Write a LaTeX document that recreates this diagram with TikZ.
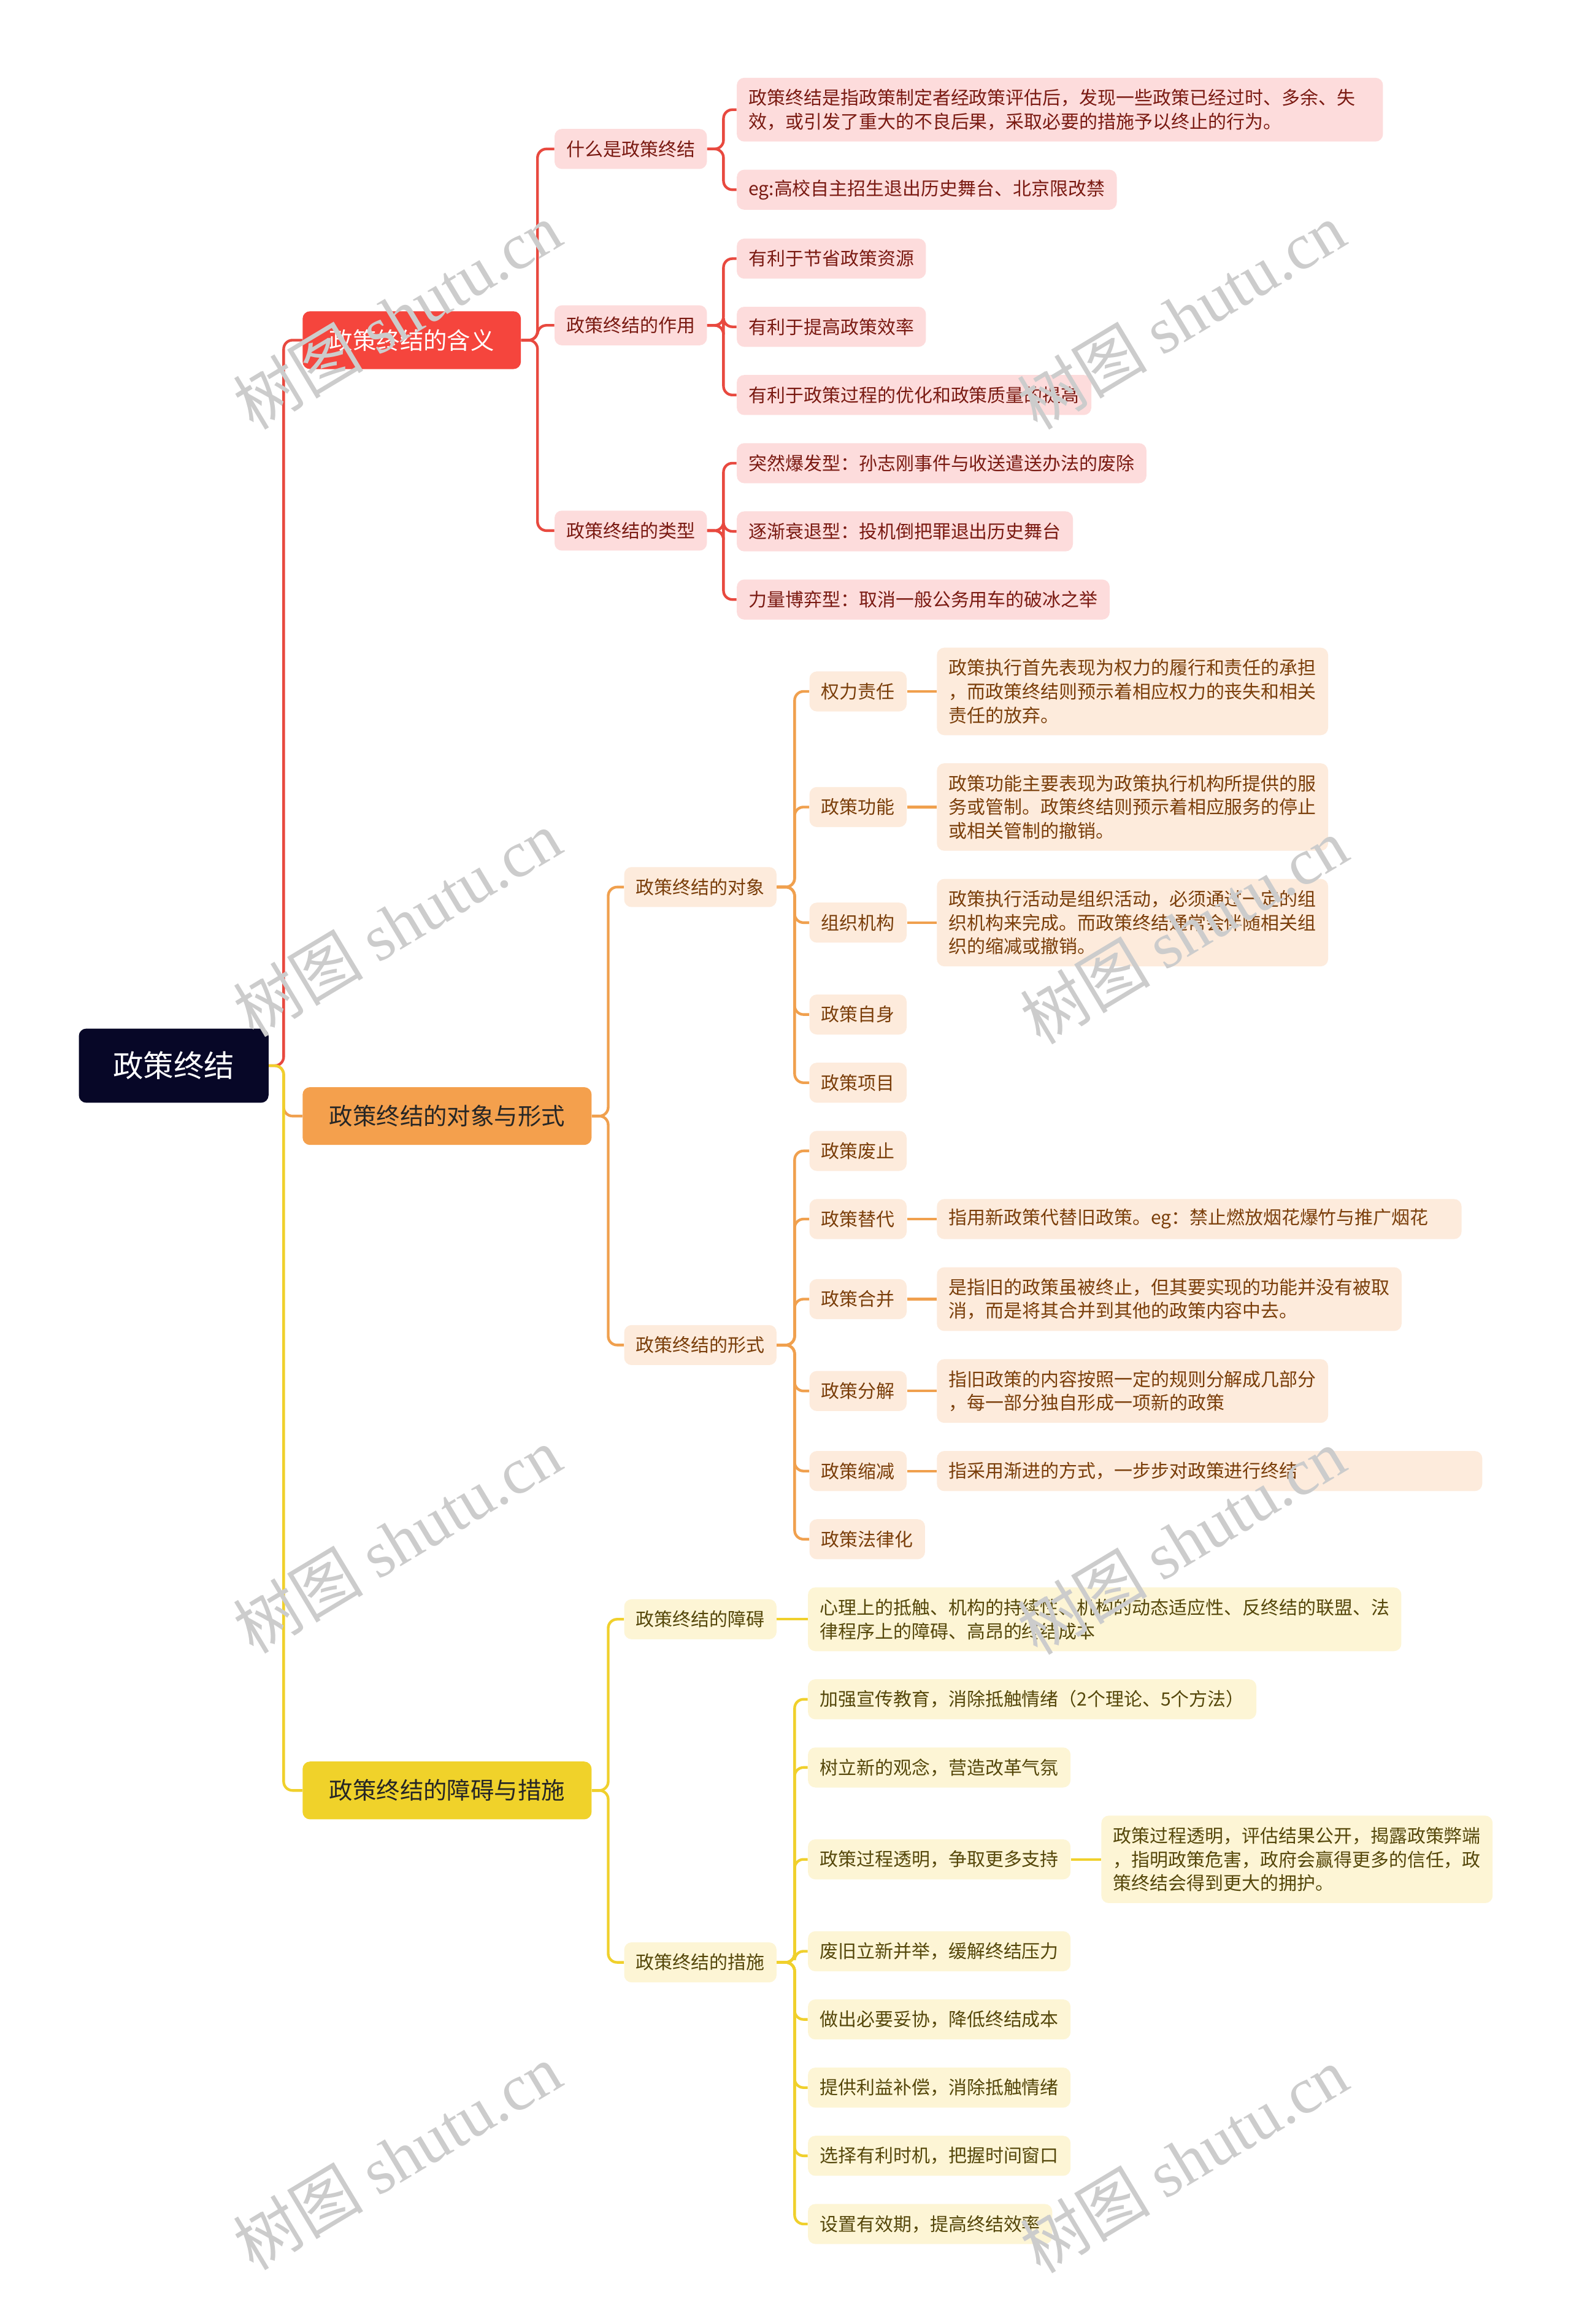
\documentclass[tikz,border=0pt]{standalone}
\usepackage{fontspec}
\setmainfont{Noto Sans CJK SC}
\newfontfamily\wmlatin{Liberation Serif}
\definecolor{rootC}{HTML}{070727}
\definecolor{redM}{HTML}{F5453D}
\definecolor{orgM}{HTML}{F4A04D}
\definecolor{yelM}{HTML}{F0D22A}
\definecolor{redC}{HTML}{E8493F}
\definecolor{orgC}{HTML}{F0A04E}
\definecolor{yelC}{HTML}{F0D02C}
\definecolor{redL}{HTML}{FDDCDC}
\definecolor{orgL}{HTML}{FDEBDC}
\definecolor{yelL}{HTML}{FDF5D5}
\definecolor{redT}{HTML}{7A1A12}
\definecolor{orgT}{HTML}{7A3E0A}
\definecolor{yelT}{HTML}{55470A}
\tikzset{
  basebox/.style={rounded corners=5pt, inner xsep=8pt, inner ysep=0pt, minimum height=27pt,
    anchor=west, font=\fontsize{12.4}{16}\selectfont, align=left},
  rbox/.style={basebox, fill=redL, text=redT},
  obox/.style={basebox, fill=orgL, text=orgT},
  ybox/.style={basebox, fill=yelL, text=yelT},
  lvone/.style={rounded corners=5pt, inner xsep=18pt, inner ysep=0pt, minimum height=39pt,
    anchor=west, font=\fontsize{15.9}{20}\selectfont},
  rootbox/.style={rounded corners=5pt, inner xsep=20pt, inner ysep=0pt, minimum height=50pt,
    minimum width=128pt, anchor=west, font=\fontsize{20.5}{24}\selectfont, fill=rootC, text=white},
  rline/.style={draw=redC, line width=1.8pt, rounded corners=6pt},
  oline/.style={draw=orgC, line width=1.8pt, rounded corners=6pt},
  yline/.style={draw=yelC, line width=1.8pt, rounded corners=6pt},
  wmark/.style={rotate=31, text=black!20, font=\fontsize{44}{44}\selectfont}
}
\begin{document}
\begin{tikzpicture}[x=1pt,y=-1pt]
\path[use as bounding box, fill=white] (0,0) rectangle (1060,1568);

% root
\node[rootbox] (R) at (53,719) {政策终结};

% level 1
\node[lvone, fill=redM, text=white, minimum width=147pt] (A) at (204,229.5) {政策终结的含义};
\node[lvone, fill=orgM, text=black!85, minimum width=195pt] (B) at (204,753) {政策终结的对象与形式};
\node[lvone, fill=yelM, text=black!85, minimum width=195pt] (C) at (204,1208) {政策终结的障碍与措施};

% red branch
\node[rbox, minimum width=102pt] (A1) at (374,100.5) {什么是政策终结};
\node[rbox, minimum width=102pt] (A2) at (374,219.5) {政策终结的作用};
\node[rbox, minimum width=102pt] (A3) at (374,358) {政策终结的类型};
\node[rbox, minimum height=43pt, text width=420pt] (A11) at (497,74) {政策终结是指政策制定者经政策评估后，发现一些政策已经过时、多余、失\\效，或引发了重大的不良后果，采取必要的措施予以终止的行为。};
\node[rbox] (A12) at (497,128) {eg:高校自主招生退出历史舞台、北京限改禁};
\node[rbox] (A21) at (497,174.5) {有利于节省政策资源};
\node[rbox] (A22) at (497,220.5) {有利于提高政策效率};
\node[rbox] (A23) at (497,266.5) {有利于政策过程的优化和政策质量的提高};
\node[rbox] (A31) at (497,312.5) {突然爆发型：孙志刚事件与收送遣送办法的废除};
\node[rbox] (A32) at (497,358.5) {逐渐衰退型：投机倒把罪退出历史舞台};
\node[rbox] (A33) at (497,404.5) {力量博弈型：取消一般公务用车的破冰之举};

% orange branch
\node[obox, minimum width=102pt] (B1) at (421,598.5) {政策终结的对象};
\node[obox, minimum width=102pt] (B2) at (421,907.5) {政策终结的形式};
\node[obox] (B11) at (546,466.5) {权力责任};
\node[obox] (B12) at (546,544.5) {政策功能};
\node[obox] (B13) at (546,622.5) {组织机构};
\node[obox] (B14) at (546,684.5) {政策自身};
\node[obox] (B15) at (546,730.5) {政策项目};
\node[obox] (B21) at (546,776.5) {政策废止};
\node[obox] (B22) at (546,822.5) {政策替代};
\node[obox] (B23) at (546,876.5) {政策合并};
\node[obox] (B24) at (546,938.5) {政策分解};
\node[obox] (B25) at (546,992.5) {政策缩减};
\node[obox] (B26) at (546,1038.5) {政策法律化};
\node[obox, minimum height=59pt] (B11a) at (632,466.5) {政策执行首先表现为权力的履行和责任的承担\\，而政策终结则预示着相应权力的丧失和相关\\责任的放弃。};
\node[obox, minimum height=59pt] (B12a) at (632,544.5) {政策功能主要表现为政策执行机构所提供的服\\务或管制。政策终结则预示着相应服务的停止\\或相关管制的撤销。};
\node[obox, minimum height=59pt] (B13a) at (632,622.5) {政策执行活动是组织活动，必须通过一定的组\\织机构来完成。而政策终结通常会伴随相关组\\织的缩减或撤销。};
\node[obox, text width=338pt] (B22a) at (632,822.5) {指用新政策代替旧政策。eg：禁止燃放烟花爆竹与推广烟花};
\node[obox, minimum height=43pt] (B23a) at (632,876.5) {是指旧的政策虽被终止，但其要实现的功能并没有被取\\消，而是将其合并到其他的政策内容中去。};
\node[obox, minimum height=43pt] (B24a) at (632,938.5) {指旧政策的内容按照一定的规则分解成几部分\\，每一部分独自形成一项新的政策};
\node[obox, text width=352pt] (B25a) at (632,992.5) {指采用渐进的方式，一步步对政策进行终结};

% yellow branch
\node[ybox, minimum width=102pt] (C1) at (421,1092.5) {政策终结的障碍};
\node[ybox, minimum width=102pt] (C2) at (421,1324) {政策终结的措施};
\node[ybox, minimum height=43pt] (C11) at (545,1092.5) {心理上的抵触、机构的持续性、机构的动态适应性、反终结的联盟、法\\律程序上的障碍、高昂的终结成本};
\node[ybox] (C21) at (545,1146.5) {加强宣传教育，消除抵触情绪（2个理论、5个方法）};
\node[ybox] (C22) at (545,1192.5) {树立新的观念，营造改革气氛};
\node[ybox] (C23) at (545,1254.5) {政策过程透明，争取更多支持};
\node[ybox] (C24) at (545,1316.5) {废旧立新并举，缓解终结压力};
\node[ybox] (C25) at (545,1362.5) {做出必要妥协，降低终结成本};
\node[ybox] (C26) at (545,1408.5) {提供利益补偿，消除抵触情绪};
\node[ybox] (C27) at (545,1454.5) {选择有利时机，把握时间窗口};
\node[ybox] (C28) at (545,1500.5) {设置有效期，提高终结效率};
\node[ybox, minimum height=59pt] (C23a) at (743,1254.5) {政策过程透明，评估结果公开，揭露政策弊端\\，指明政策危害，政府会赢得更多的信任，政\\策终结会得到更大的拥护。};

% connectors
\draw[rline] (R.east) -- ++(10,0) |- (A.west);
\draw[oline] (R.east) -- ++(10,0) |- (B.west);
\draw[yline] (R.east) -- ++(10,0) |- (C.west);

\foreach \c in {A1,A2,A3} \draw[rline] (A.east) -- ++(11,0) |- (\c.west);
\foreach \c in {A11,A12} \draw[rline] (A1.east) -- ++(11,0) |- (\c.west);
\foreach \c in {A21,A22,A23} \draw[rline] (A2.east) -- ++(11,0) |- (\c.west);
\foreach \c in {A31,A32,A33} \draw[rline] (A3.east) -- ++(11,0) |- (\c.west);

\foreach \c in {B1,B2} \draw[oline] (B.east) -- ++(11,0) |- (\c.west);
\foreach \c in {B11,B12,B13,B14,B15} \draw[oline] (B1.east) -- ++(12,0) |- (\c.west);
\foreach \c in {B21,B22,B23,B24,B25,B26} \draw[oline] (B2.east) -- ++(12,0) |- (\c.west);
\foreach \a/\b in {B11/B11a,B12/B12a,B13/B13a,B22/B22a,B23/B23a,B24/B24a,B25/B25a}
  \draw[oline] (\a.east) -- (\b.west);

\foreach \c in {C1,C2} \draw[yline] (C.east) -- ++(11,0) |- (\c.west);
\draw[yline] (C1.east) -- (C11.west);
\foreach \c in {C21,C22,C23,C24,C25,C26,C27,C28} \draw[yline] (C2.east) -- ++(12,0) |- (\c.west);
\draw[yline] (C23.east) -- (C23a.west);

% watermarks
\foreach \x/\y in {268/213, 797/213, 268/623, 799/628, 268/1039, 797/1040, 268/1455, 799/1457}
  \node[wmark] at (\x,\y) {树图 {\wmlatin shutu.cn}};
\end{tikzpicture}
\end{document}
